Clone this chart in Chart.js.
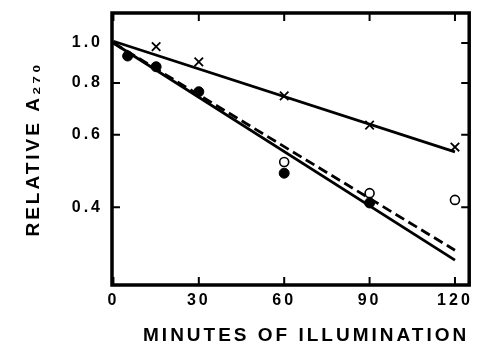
<!DOCTYPE html>
<html>
<head>
<meta charset="utf-8">
<script src="https://cdn.jsdelivr.net/npm/chart.js@4/dist/chart.umd.min.js"></script>
<style>
  body { margin: 0; background: #fff; }
  #wrap { width: 477px; height: 353px; }
</style>
</head>
<body>
<div id="wrap"><canvas id="grafik" width="477" height="353"></canvas></div>
<script>
// tick values
const xTicks = [0, 30, 60, 90, 120];
const yTicks = [0.4, 0.6, 0.8, 1.0];

// measured points (minutes, relative A270)
const crossMin = [15, 30, 60, 90, 120];
const crossVal = [0.98, 0.90, 0.745, 0.633, 0.56];
const filledMin = [5, 15, 30, 60, 90];
const filledVal = [0.93, 0.876, 0.762, 0.484, 0.41];
const openMin = [60, 90, 120];
const openVal = [0.515, 0.433, 0.417];

// fitted lines (end points)
const fitMin = [0, 120];
const fitCross = [1.01, 0.545];
const fitSolid = [1.0, 0.298];
const fitDashed = [1.0, 0.315];

const toPts = (xs, ys) => xs.map((x, i) => ({ x: x, y: ys[i] }));

const FONT = "'Liberation Sans', Arial, sans-serif";
const SPACING = '3px';

// frame + inward tick marks, and wide letter spacing like the original
const bingkai = {
  id: 'bingkai',
  beforeUpdate(chart) { chart.ctx.letterSpacing = SPACING; },
  beforeDraw(chart) {
    const ctx = chart.ctx;
    ctx.letterSpacing = SPACING;
    ctx.save();
    ctx.fillStyle = '#fff';
    ctx.fillRect(0, 0, chart.width, chart.height);
    ctx.restore();
  },
  afterDraw(chart) {
    const { ctx, chartArea: a, scales } = chart;
    const len = 8;
    ctx.save();
    ctx.strokeStyle = '#000';
    ctx.lineWidth = 2;
    ctx.beginPath();
    xTicks.forEach(v => {
      const px = scales.x.getPixelForValue(v);
      ctx.moveTo(px, a.bottom); ctx.lineTo(px, a.bottom - len);
      ctx.moveTo(px, a.top); ctx.lineTo(px, a.top + len);
    });
    yTicks.forEach(v => {
      const py = scales.y.getPixelForValue(v);
      ctx.moveTo(a.left, py); ctx.lineTo(a.left + len, py);
      ctx.moveTo(a.right, py); ctx.lineTo(a.right - len, py);
    });
    ctx.stroke();
    ctx.lineWidth = 3.5;
    ctx.strokeRect(a.left, a.top, a.right - a.left, a.bottom - a.top);
    ctx.restore();
  }
};

// scale label overflow should not push the plot area around
const nolPadding = s => {
  s.paddingLeft = 0; s.paddingRight = 0; s.paddingTop = 0; s.paddingBottom = 0;
};

const garis = (data, dash) => ({
  type: 'scatter',
  data: data,
  showLine: true,
  borderColor: '#000',
  borderWidth: 2.8,
  borderDash: dash || [],
  pointRadius: 0
});

new Chart(document.getElementById('grafik'), {
  type: 'scatter',
  data: {
    datasets: [
      garis(toPts(fitMin, fitCross)),
      garis(toPts(fitMin, fitSolid)),
      garis(toPts(fitMin, fitDashed), [10, 5]),
      {
        data: toPts(crossMin, crossVal),
        pointStyle: 'crossRot',
        pointRadius: 6,
        borderColor: '#000',
        borderWidth: 1.8
      },
      {
        data: toPts(filledMin, filledVal),
        pointStyle: 'circle',
        pointRadius: 5,
        backgroundColor: '#000',
        borderColor: '#000',
        borderWidth: 1
      },
      {
        data: toPts(openMin, openVal),
        pointStyle: 'circle',
        pointRadius: 4.5,
        backgroundColor: '#fff',
        borderColor: '#000',
        borderWidth: 1.6
      }
    ]
  },
  options: {
    responsive: false,
    animation: false,
    layout: { padding: { left: 0, right: 6, top: 13, bottom: 0 } },
    plugins: { legend: { display: false }, tooltip: { enabled: false } },
    scales: {
      x: {
        type: 'linear',
        min: -0.5,
        max: 125,
        afterBuildTicks: s => { s.ticks = xTicks.map(v => ({ value: v })); },
        afterFit: s => { s.height = 68; nolPadding(s); },
        grid: { display: false, drawTicks: false },
        border: { display: false },
        ticks: { padding: 6, color: '#000', font: { family: FONT, size: 16, weight: 'bold' } },
        title: {
          display: true,
          text: 'MINUTES OF ILLUMINATION',
          align: 'end',
          color: '#000',
          font: { family: FONT, size: 19, weight: 'bold' },
          padding: { top: 0, bottom: 6 }
        }
      },
      y: {
        type: 'logarithmic',
        min: 0.2595,
        max: 1.182,
        afterBuildTicks: s => { s.ticks = yTicks.map(v => ({ value: v })); },
        afterFit: s => { s.width = 112; nolPadding(s); },
        grid: { display: false, drawTicks: false },
        border: { display: false },
        ticks: {
          padding: 9,
          color: '#000',
          font: { family: FONT, size: 16, weight: 'bold' },
          callback: v => v.toFixed(1)
        },
        title: {
          display: true,
          text: 'RELATIVE A₂₇₀',
          color: '#000',
          font: { family: FONT, size: 19, weight: 'bold' },
          padding: { top: 22, bottom: 0 }
        }
      }
    }
  },
  plugins: [bingkai]
});
</script>
</body>
</html>
